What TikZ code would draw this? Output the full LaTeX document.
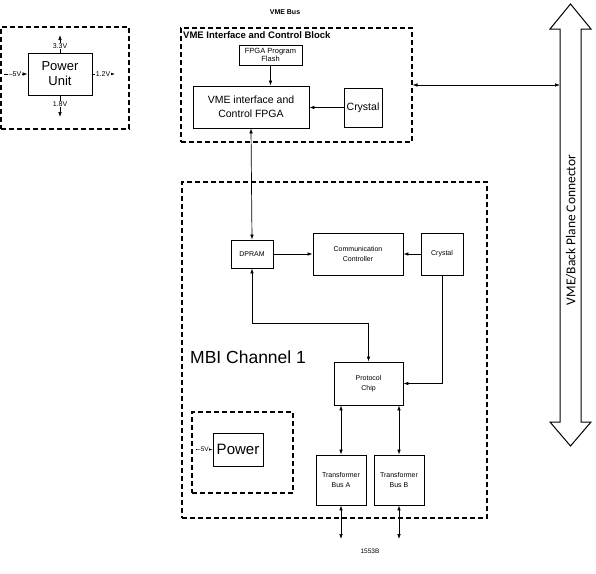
\documentclass[tikz,border=0pt]{standalone}
\usepackage{fontspec}
\setmainfont{Liberation Sans}
\newfontfamily\calfont{Carlito}
\usetikzlibrary{arrows.meta}
\begin{document}
\begin{tikzpicture}[x=1pt,y=-1pt,
  box/.style={draw, line width=0.8pt, inner sep=0pt, align=center},
  dbox/.style={draw, line width=1.1pt, dash pattern=on 5pt off 3pt, inner sep=0pt},
  lbl/.style={fill=white, inner sep=0.5pt, font=\fontsize{7}{8}\selectfont},
  conn/.style={line width=0.7pt, -{Latex[length=5pt,width=3.6pt]}},
  dconn/.style={line width=0.7pt, {Latex[length=5pt,width=3.6pt]}-{Latex[length=5pt,width=3.6pt]}}]
\useasboundingbox (0,0) rectangle (596,573);

% Power unit block
\node[dbox, minimum width=128, minimum height=102] (pwrblk) at (65,78) {};
\node[box, minimum width=64, minimum height=42, font=\fontsize{13}{15}\selectfont] (pu) at (60,74) {Power\\Unit};
\coordinate (pu33) at (60,35);
\coordinate (pu18) at (60,117);
\coordinate (pum5) at (4,74);
\coordinate (pu12) at (115,74);
\draw[conn] (pu.north) -- (pu33);
\draw[conn] (pu.south) -- (pu18);
\draw[conn] (pum5) -- (pu.west);
\draw[conn] (pu.east) -- (pu12);
\node[lbl] at (60,46) {3.3V};
\node[lbl] at (60,104) {1.8V};
\node[lbl] at (15,74) {\textendash5V};
\node[lbl] at (103,74) {1.2V};

% VME Bus label
\node[font=\bfseries\fontsize{7}{8}\selectfont] (vmebus) at (285,12) {VME Bus};

% VME interface block
\node[dbox, minimum width=231, minimum height=114] (vmeblk) at (296.5,85) {};
\node[anchor=north west, inner sep=0pt, font=\bfseries\fontsize{9.5}{11}\selectfont] (vmetitle) at (183,31) {VME Interface and Control Block};
\node[box, minimum width=63, minimum height=20, font=\fontsize{7.5}{8.5}\selectfont] (flash) at (270.5,55) {FPGA Program\\Flash};
\node[box, minimum width=116, minimum height=42, font=\fontsize{10.5}{14}\selectfont] (fpga) at (251,107) {VME interface and\\Control FPGA};
\node[box, minimum width=38, minimum height=39, font=\fontsize{10.5}{12}\selectfont] (crys1) at (363,107.5) {Crystal};
\draw[conn] (flash.south) -- (flash.south |- fpga.north);
\draw[conn] (crys1.west) -- (crys1.west -| fpga.east);

% Backplane connector
\draw[line width=1pt, line join=miter] (570.5,4) -- (591,29) -- (581,29) -- (581,422) -- (591,422) -- (570.5,446) -- (550,422) -- (560,422) -- (560,29) -- (550,29) -- cycle;
\node[rotate=90, font=\calfont\fontsize{13.5}{15}\selectfont] (bpc) at (571,230) {VME/Back Plane Connector};
\coordinate (busL) at (560,85);
\draw[dconn] (vmeblk.east) -- (busL);

% MBI channel
\node[dbox, minimum width=305, minimum height=336] (mbi) at (334.5,350) {};
\node[anchor=base west, inner sep=0pt, font=\fontsize{17.5}{20}\selectfont] (mbititle) at (190,363) {MBI Channel 1};
\node[box, minimum width=42, minimum height=28, font=\fontsize{7}{8}\selectfont] (dpram) at (252,254) {DPRAM};
\node[box, minimum width=90, minimum height=42, font=\fontsize{7}{10}\selectfont] (comm) at (358,254) {Communication\\Controller};
\node[box, minimum width=42, minimum height=42, font=\fontsize{7}{8}\selectfont] (crys2) at (442,254) {Crystal};
\node[box, minimum width=69, minimum height=43, font=\fontsize{7}{10}\selectfont] (proto) at (368.5,383.5) {Protocol\\Chip};
\node[box, minimum width=50, minimum height=50, font=\fontsize{7}{10}\selectfont] (ta) at (341,480) {Transformer\\Bus A};
\node[box, minimum width=50, minimum height=50, font=\fontsize{7}{10}\selectfont] (tb) at (399,480) {Transformer\\Bus B};

\draw[dconn] (fpga.south) -- (dpram.north);
\draw[conn] (dpram.east) -- (comm.west);
\draw[conn] (crys2.west) -- (comm.east);
\draw[dconn] (dpram.south) -- (252,323) -| (proto.north);
\draw[conn] (crys2.south) |- (proto.east);
\draw[dconn] (ta.north |- proto.south) -- (ta.north);
\draw[dconn] (tb.north |- proto.south) -- (tb.north);
\coordinate (taend) at (341,539);
\coordinate (tbend) at (399,539);
\draw[dconn] (ta.south) -- (taend);
\draw[dconn] (tb.south) -- (tbend);
\node[font=\fontsize{6.5}{8}\selectfont] (bus1553) at (370,551) {1553B};

% channel power
\node[dbox, minimum width=101, minimum height=81] (pwr2blk) at (242.5,452.5) {};
\node[box, minimum width=50, minimum height=33, font=\fontsize{15}{17}\selectfont] (pwr2) at (238,449.5) {Power};
\coordinate (p2m5) at (196,449.5);
\draw[conn] (p2m5) -- (pwr2.west);
\node[lbl, font=\fontsize{6.5}{8}\selectfont] at (203,449.5) {\textendash5V};
\end{tikzpicture}
\end{document}
